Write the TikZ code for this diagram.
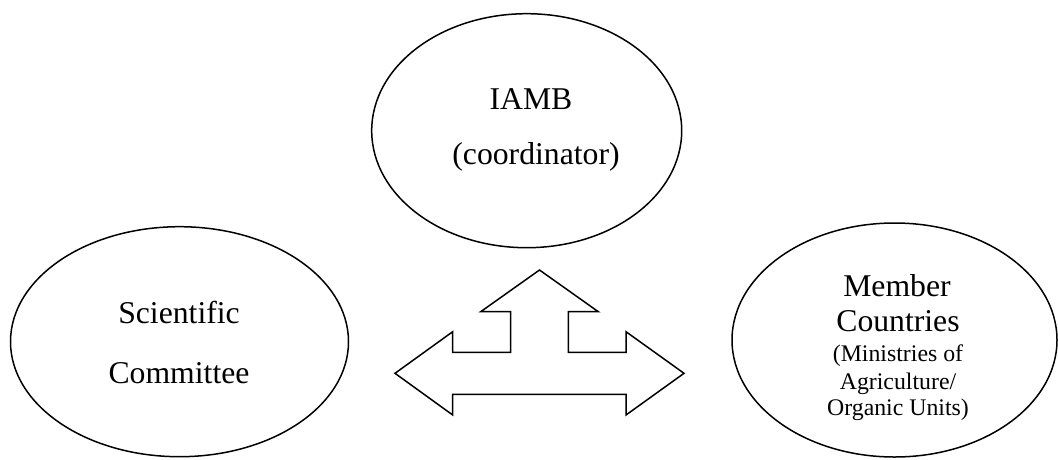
\documentclass[tikz,border=0pt]{standalone}
\usepackage{fontspec}
\setmainfont{Liberation Serif}
\usetikzlibrary{shapes.geometric}
\begin{document}
\begin{tikzpicture}[x=1pt,y=-1pt,
  oval/.style={draw, ellipse, line width=1.5pt, inner sep=0pt},
  big/.style={anchor=base, inner sep=0pt, font=\fontsize{31.7}{36}\selectfont},
  small/.style={anchor=base, inner sep=0pt, font=\fontsize{23.8}{27}\selectfont},
  shapeline/.style={draw, line width=1.5pt, line join=miter}]
\useasboundingbox (0,0) rectangle (1058,459);
% ellipses
\node[oval, minimum width=310pt, minimum height=234pt] (iamb) at (526.7,130.7) {};
\node[oval, minimum width=338pt, minimum height=230pt] (sci) at (179.5,341.7) {};
\node[oval, minimum width=325pt, minimum height=234pt] (mem) at (894.5,340) {};
% texts
\node[big] (t1) at (531,109) {IAMB};
\node[big] (t2) at (536,164) {(coordinator)};
\node[big] (t3) at (179,323) {Scientific};
\node[big] (t4) at (179,383) {Committee};
\node[big] (t5) at (897,296.5) {Member};
\node[big] (t6) at (898,331.5) {Countries};
\node[small] (t7) at (898,361.7) {(Ministries of};
\node[small] (t8) at (898,389) {Agriculture/};
\node[small] (t9) at (898,415) {Organic Units)};
% three-way arrow
\draw[shapeline] (539.5,270) -- (598.3,311.7) -- (568.3,311.7) -- (568.3,352.3)
  -- (626,352.3) -- (626,331.7) -- (684,373.3) -- (626,415) -- (626,394.3)
  -- (452.7,394.3) -- (452.7,415) -- (395,373.3) -- (452.7,331.7) -- (452.7,352.3)
  -- (510.7,352.3) -- (510.7,311.7) -- (480.7,311.7) -- cycle;
\end{tikzpicture}
\end{document}
